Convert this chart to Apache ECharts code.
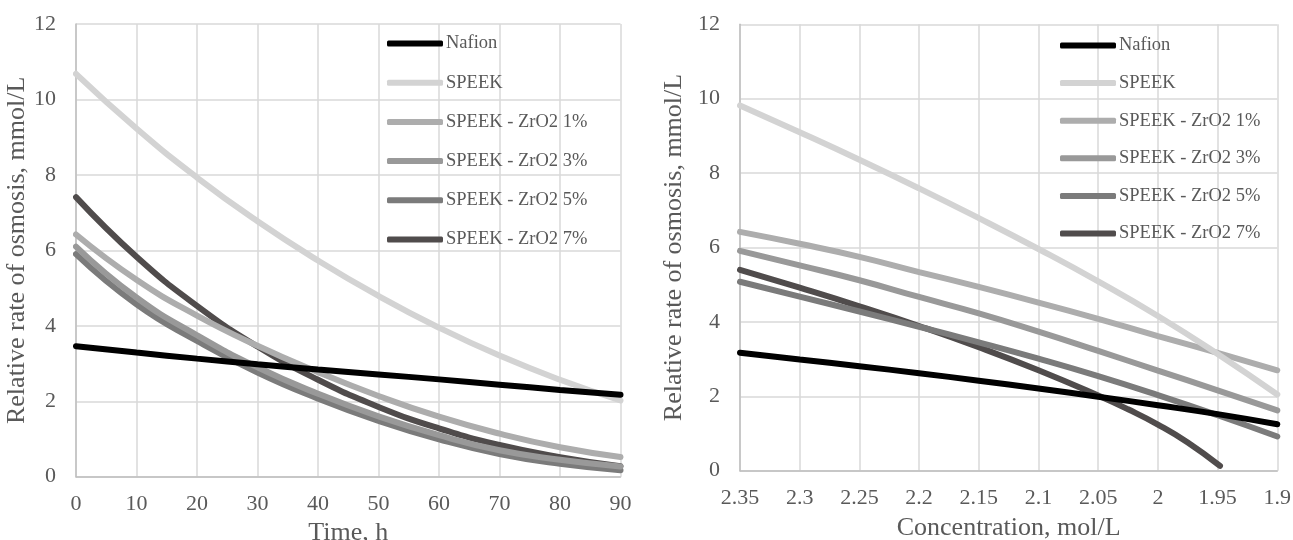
<!DOCTYPE html>
<html>
<head>
<meta charset="utf-8">
<style>
  html, body { margin: 0; padding: 0; background: #fff; }
  #chart { width: 1293px; height: 540px; }
</style>
<script src="https://cdn.jsdelivr.net/npm/echarts@6/dist/echarts.min.js"></script>
</head>
<body>
<div id="chart"></div>
<script>
// left panel: time, h
const timeHours = [0, 10, 20, 30, 40, 50, 60, 70, 80, 90]
const timeNafion = [3.46, 3.29, 3.13, 2.98, 2.84, 2.71, 2.58, 2.44, 2.3, 2.17]
const timeSpeek = [10.68, 9.23, 7.93, 6.77, 5.73, 4.79, 3.95, 3.21, 2.57, 2.02]
const timeZr1 = [6.42, 5.22, 4.27, 3.47, 2.77, 2.14, 1.59, 1.14, 0.78, 0.52]
const timeZr3 = [6.1, 4.75, 3.75, 2.9, 2.2, 1.6, 1.1, 0.7, 0.45, 0.27]
const timeZr5 = [5.9, 4.57, 3.6, 2.76, 2.07, 1.48, 0.99, 0.6, 0.34, 0.17]
const timeZr7 = [7.41, 5.83, 4.53, 3.45, 2.57, 1.85, 1.28, 0.84, 0.52, 0.28]

// right panel: concentration, mol/L
const conc = [2.35, 2.3, 2.25, 2.2, 2.15, 2.1, 2.05, 2.0, 1.95, 1.9]
const concNafion = [3.17, 2.99, 2.81, 2.62, 2.42, 2.21, 1.99, 1.76, 1.52, 1.25]
const concSpeek = [9.82, 9.1, 8.36, 7.59, 6.79, 5.96, 5.09, 4.16, 3.14, 2.05]
const concZr1 = [6.42, 6.1, 5.75, 5.34, 4.94, 4.52, 4.08, 3.62, 3.17, 2.7]
const concZr3 = [5.91, 5.52, 5.12, 4.67, 4.23, 3.74, 3.22, 2.69, 2.16, 1.62]
const concZr5 = [5.08, 4.68, 4.28, 3.87, 3.45, 3.01, 2.54, 2.03, 1.49, 0.92]
const conc7 = [2.35, 2.3, 2.25, 2.2, 2.15, 2.1, 2.05, 2.025, 2.0, 1.975, 1.948]
const concZr7 = [5.4, 4.92, 4.42, 3.89, 3.32, 2.7, 2.02, 1.65, 1.24, 0.76, 0.13]

const names = ['Nafion', 'SPEEK', 'SPEEK - ZrO2 1%', 'SPEEK - ZrO2 3%', 'SPEEK - ZrO2 5%', 'SPEEK - ZrO2 7%']
const colors = ['#000000', '#d3d3d3', '#adadad', '#999999', '#7b7b7b', '#504c4c']

const FONT = '"Liberation Serif", "Times New Roman", serif'
const TEXT = '#595959'

const pairs = (xs, ys) => xs.map((x, i) => [x, ys[i]])

const leftSets = [timeNafion, timeSpeek, timeZr1, timeZr3, timeZr5, timeZr7]
const rightSets = [
  pairs(conc, concNafion), pairs(conc, concSpeek), pairs(conc, concZr1),
  pairs(conc, concZr3), pairs(conc, concZr5), pairs(conc7, concZr7),
]

const lineSeries = (data, i, idx) => ({
  name: names[i],
  type: 'line',
  xAxisIndex: idx,
  yAxisIndex: idx,
  data,
  smooth: 0.5,
  symbol: 'none',
  color: colors[i],
  lineStyle: { width: 6, color: colors[i], cap: 'round' },
  z: 10 - i,
})

const series = [
  ...leftSets.map((ys, i) => lineSeries(pairs(timeHours, ys), i, 0)),
  ...rightSets.map((d, i) => lineSeries(d, i, 1)),
]

const yAxisBase = (idx, gap) => ({
  type: 'value',
  gridIndex: idx,
  min: 0,
  max: 12,
  interval: 2,
  name: 'Relative rate of osmosis, mmol/L',
  nameLocation: 'middle',
  nameGap: gap,
  nameTextStyle: { fontFamily: FONT, fontSize: 26, color: TEXT },
  axisLine: { show: true, lineStyle: { color: '#bfbfbf', width: 1.5 } },
  axisTick: { show: false },
  axisLabel: { fontFamily: FONT, fontSize: 22, color: TEXT, margin: 20 },
  splitLine: { lineStyle: { color: '#d9d9d9', width: 1.5 } },
})

const legendBase = (left, top, gap) => ({
  orient: 'vertical',
  left,
  top,
  padding: 0,
  data: names,
  icon: 'roundRect',
  itemWidth: 56,
  itemHeight: 6,
  itemGap: gap,
  textStyle: { fontFamily: FONT, fontSize: 18.5, color: TEXT, padding: [0, 0, 0, -2] },
  selectedMode: false,
})

const option = {
  animation: false,
  backgroundColor: '#fff',
  grid: [
    { left: 76, right: 672.5, top: 24, bottom: 63.3, containLabel: false, outerBoundsMode: 'none' },
    { left: 740, right: 15.7, top: 24.3, bottom: 69.3, containLabel: false, outerBoundsMode: 'none' },
  ],
  legend: [legendBase(387, 34, 20.2), legendBase(1060, 36, 18.6)],
  xAxis: [
    {
      type: 'value',
      gridIndex: 0,
      min: 0,
      max: 90,
      interval: 10,
      name: 'Time, h',
      nameLocation: 'middle',
      nameGap: 40,
      nameTextStyle: { fontFamily: FONT, fontSize: 26, color: TEXT },
      axisLine: { lineStyle: { color: '#bfbfbf', width: 1.5 } },
      axisTick: { show: false },
      axisLabel: { fontFamily: FONT, fontSize: 22, color: TEXT, margin: 17 },
      splitLine: { lineStyle: { color: '#d9d9d9', width: 1.5 } },
    },
    {
      type: 'value',
      gridIndex: 1,
      min: 1.9,
      max: 2.35,
      interval: 0.05,
      inverse: true,
      name: 'Concentration, mol/L',
      nameLocation: 'middle',
      nameGap: 44,
      nameTextStyle: { fontFamily: FONT, fontSize: 26, color: TEXT },
      axisLine: { lineStyle: { color: '#bfbfbf', width: 1.5 } },
      axisTick: { show: false },
      axisLabel: {
        fontFamily: FONT, fontSize: 22, color: TEXT, margin: 17,
        formatter: v => String(parseFloat(v.toFixed(2))),
      },
      splitLine: { lineStyle: { color: '#d9d9d9', width: 1.5 } },
    },
  ],
  yAxis: [yAxisBase(0, 31), yAxisBase(1, 53)],
  series,
}

const myChart = echarts.init(document.getElementById('chart'), null, { renderer: 'canvas' })
myChart.setOption(option)
</script>
</body>
</html>
